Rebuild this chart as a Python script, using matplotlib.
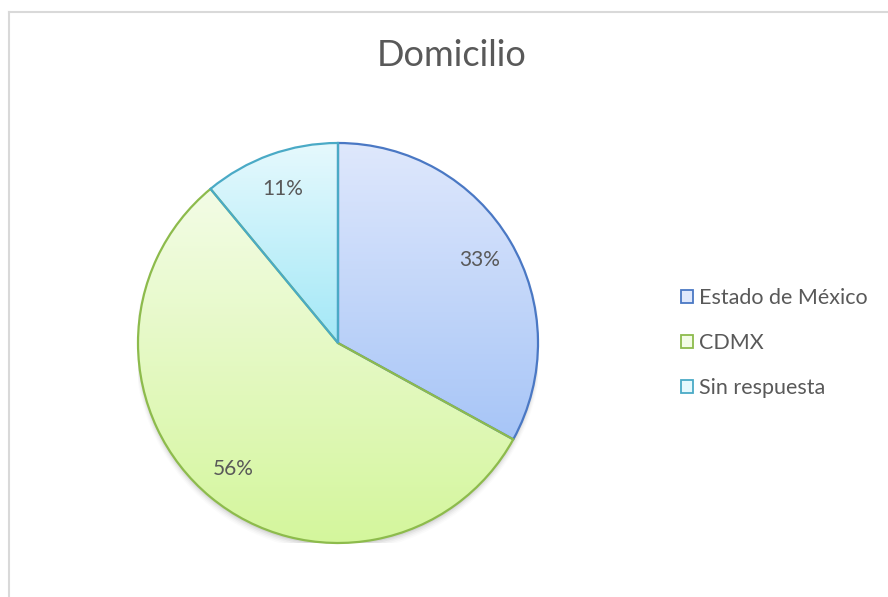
import numpy as np
import matplotlib
matplotlib.use("Agg")
import matplotlib.pyplot as plt
from matplotlib.colors import LinearSegmentedColormap
from matplotlib.patches import Patch, Circle
from matplotlib.lines import Line2D

plt.rcParams['font.family'] = ['Lato', 'DejaVu Sans']

title = "Domicilio"
categories = ["Estado de México", "CDMX", "Sin respuesta"]
values = [33, 56, 11]
top_colors = ["#dfe8fc", "#f3fce6", "#e6f9fd"]
bottom_colors = ["#a7c5f7", "#d4f69c", "#a3e8f7"]
edge_colors = ["#4a78c4", "#8dbb4c", "#4aaac6"]
text_color = "#595959"

W, H = 888, 597
fig = plt.figure(figsize=(W / 100, H / 100), dpi=100)

# chart border
fig.add_artist(Line2D([9 / W, 9 / W], [0, 1 - 12 / H], color="#d9d9d9", lw=1.5))
fig.add_artist(Line2D([9 / W, 1], [1 - 12 / H, 1 - 12 / H], color="#d9d9d9", lw=1.5))

cx, cy, r = 338, 343, 200
ax = fig.add_axes([(cx - r) / W, 1 - (cy + r) / H, 2 * r / W, 2 * r / H])
ax.set_xlim(-1, 1)
ax.set_ylim(-1, 1)
ax.set_aspect("equal")
ax.axis("off")

# soft shadow
for i, a in enumerate(np.linspace(0.05, 0.015, 5)):
    ax.add_patch(Circle((0, -0.012 - 0.004 * i), 1.0 + 0.004 * i, color="black",
                        alpha=a, lw=0, zorder=0))

wedges, texts, autotexts = ax.pie(
    values, startangle=90, counterclock=False, radius=1.0,
    autopct=lambda p: f"{p:.0f}%", pctdistance=0.82,
    wedgeprops=dict(linewidth=1.6), textprops=dict(color=text_color, fontsize=15))

for w, tc, bc, ec in zip(wedges, top_colors, bottom_colors, edge_colors):
    w.set_facecolor("none")
    w.set_edgecolor(ec)
    w.set_zorder(3)
    verts = w.get_path().vertices
    x0, x1 = verts[:, 0].min(), verts[:, 0].max()
    y0, y1 = verts[:, 1].min(), verts[:, 1].max()
    cmap = LinearSegmentedColormap.from_list("g", [bc, tc])
    grad = np.linspace(0, 1, 256).reshape(-1, 1)
    im = ax.imshow(grad, cmap=cmap, extent=[x0, x1, y0, y1], origin="lower",
                   aspect="auto", zorder=2, interpolation="bilinear")
    im.set_clip_path(w)

for t in autotexts:
    t.set_zorder(5)

ax.set_xlim(-1, 1)
ax.set_ylim(-1, 1)

fig.text(452 / W, 1 - 56 / H, title, ha="center", va="center", fontsize=26, color=text_color)

handles = [Patch(facecolor=tc, edgecolor=ec, linewidth=1.3)
           for tc, ec in zip(top_colors, edge_colors)]
leg = fig.legend(handles, categories, loc="center left",
                 bbox_to_anchor=(681 / W, 1 - 343 / H), frameon=False,
                 fontsize=15.5, labelcolor=text_color, handlelength=0.55,
                 handleheight=0.55, handletextpad=0.3, labelspacing=1.15,
                 borderaxespad=0, borderpad=0)

fig.savefig("out.png", dpi=100, facecolor="white")
